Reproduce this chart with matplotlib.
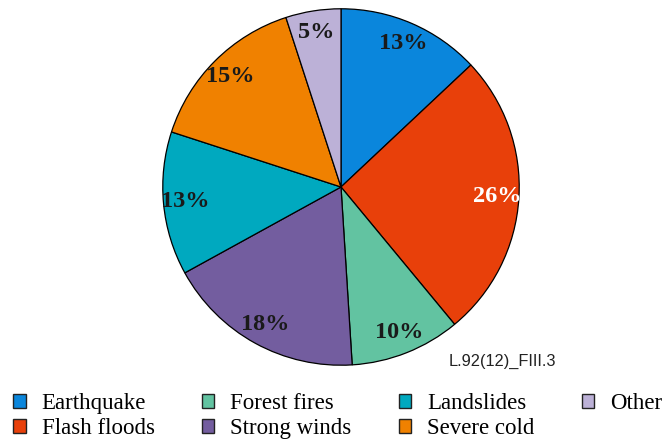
import matplotlib.pyplot as plt

labels = ['Earthquake', 'Flash floods', 'Forest fires', 'Strong winds',
          'Landslides', 'Severe cold', 'Other']
values = [13, 26, 10, 18, 13, 15, 5]
colors = ['#0a86dc', '#e8400a', '#62c3a1', '#735d9f',
          '#00a9bf', '#f08100', '#bcb1d7']
text_colors = ['#1a1a1a', 'white', '#1a1a1a', '#1a1a1a',
               '#1a1a1a', '#1a1a1a', '#1a1a1a']

fig = plt.figure(figsize=(6.68, 4.43), dpi=100)
ax = fig.add_axes([161/668, 76/443, 360/668, 360/443])

wedges, texts, autotexts = ax.pie(
    values, colors=colors, startangle=90, counterclock=False,
    autopct='%d%%', pctdistance=0.88, radius=1,
    wedgeprops=dict(edgecolor='black', linewidth=0.9))
for t, c in zip(autotexts, text_colors):
    t.set_color(c)
    t.set_fontfamily('Liberation Serif')
    t.set_fontweight('bold')
    t.set_fontsize(17.5)
ax.set_xlim(-1.01, 1.01)
ax.set_ylim(-1.01, 1.01)
ax.set_aspect('equal')
ax.axis('off')

fig.text(449/668, 1 - 361/443, 'L.92(12)_FIII.3', fontfamily='Liberation Sans',
         fontsize=11.8, va='center', ha='left', color='#222222')

leg = fig.legend(wedges, labels, loc='upper left', bbox_to_anchor=(13/668, 1 - 393/443),
                 ncol=4, frameon=False, prop={'family': 'Liberation Serif', 'size': 16.5},
                 handlelength=0.55, handleheight=0.6, handletextpad=0.7,
                 columnspacing=2.05, labelspacing=0.18, borderaxespad=0, borderpad=0)
for h in leg.legend_handles:
    h.set_edgecolor('#222222')
    h.set_linewidth(1.0)

plt.savefig('out.png', dpi=100)
